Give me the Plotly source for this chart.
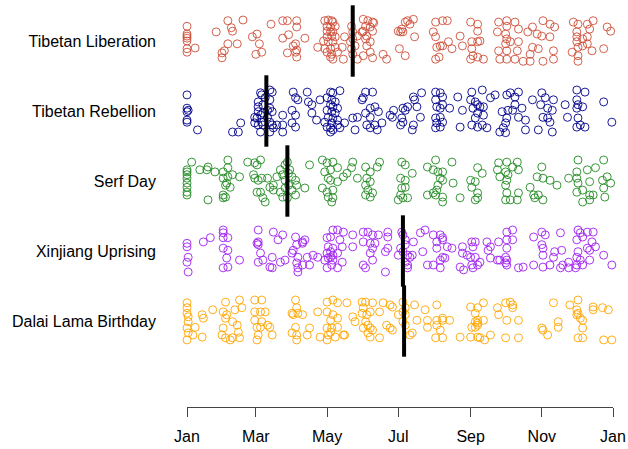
import plotly.graph_objects as go

categories = ["Dalai Lama Birthday", "Xinjiang Uprising", "Serf Day",
              "Tibetan Rebellion", "Tibetan Liberation"]
colors = ["#FFA500", "#A020F0", "#228B22", "#00008B", "#CD4F39"]
# day of year of each anniversary marker
anniv_days = [187, 186, 87, 69, 143]

month_ticks = [1, 60, 121, 182, 244, 305, 366]
month_labels = ["Jan", "Mar", "May", "Jul", "Sep", "Nov", "Jan"]

lib_days = [1,1,1,1,1,1,1,8,26,36,39,40,36,33,31,31,44,49,57,61,63,60,65,73,83,87,95,95,88,83,92,94,87,94,95,95,102,113,
    119,122,125,126,121,124,128,121,124,126,125,121,128,122,126,119,124,128,121,125,130,126,134,135,136,124,118,
    142,143,143,145,142,143,147,141,147,
    152,156,160,161,154,158,152,160,155,154,158,155,152,158,160,151,
    169,172,
    182,184,186,185,188,190,195,192,196,183,188,
    214,220,224,212,214,215,218,220,225,228,214,217,
    244,250,250,235,245,250,252,245,246,250,244,255,237,
    268,275,275,282,285,267,274,275,274,275,268,269,275,284,282,278,285,289,
    297,306,312,316,293,301,305,312,297,302,295,306,315,315,295,
    332,336,349,346,335,335,340,344,335,336,340,348,331,336,336,344,358,344,
    361,364]
lib_jit = [.21,.10,.07,.04,0,-.11,-.16,-.10,.13,.29,.19,.14,-.04,-.14,-.24,-.17,-.04,.30,.06,.10,-.04,-.19,-.16,.24,.29,.29,.29,.20,.09,.04,-.07,-.04,-.17,-.16,-.23,-.13,.04,-.09,
    .29,.30,.29,.27,.21,.20,.21,.14,.13,.13,.07,.06,.06,-.01,-.01,-.11,-.11,-.09,-.16,-.19,-.16,-.26,-.09,-.26,.06,-.23,0,
    .21,.13,.03,-.07,-.11,-.19,-.26,-.01,.07,
    .31,.29,.27,.26,.21,.20,.14,.14,.07,.03,-.01,-.07,-.21,-.16,-.24,.13,
    -.19,-.26,
    .14,.13,.13,.17,.27,.29,.31,.24,.06,-.11,-.21,
    .27,.29,.29,.13,.06,-.09,-.07,-.07,-.01,-.11,-.26,-.23,
    .27,.24,.14,.07,-.01,-.01,0,-.11,-.21,-.23,-.26,-.26,-.07,
    .27,.29,.21,.27,.17,.13,.10,.03,-.04,-.14,-.14,-.26,-.26,-.14,-.26,-.01,-.01,-.29,
    .20,.29,.24,.20,.13,.10,.07,.06,-.09,-.11,-.19,-.29,-.14,-.26,-.29,
    .27,.24,.29,.17,.13,.06,.03,.06,-.01,-.09,-.07,-.14,-.16,-.21,-.29,-.04,-.11,.24,
    .20,.14]

reb_days = [1,1,2,1,1,1,10,
    40,45,47,
    62,64,65,72,74,68,72,62,66,72,74,64,59,61,65,70,72,59,62,66,74,64,72,75,78,70,66,62,
    83,83,83,92,94,96,91,94,91,94,104,105,108,108,112,115,
    124,126,132,121,125,128,124,126,130,121,125,128,122,126,130,121,124,126,124,130,132,136,125,119,
    143,145,147,151,152,154,160,158,162,154,158,165,155,158,164,168,162,175,
    178,177,184,186,188,190,185,186,195,196,195,194,201,202,198,
    214,218,220,214,215,218,220,226,214,218,220,215,218,214,233,237,235,
    245,254,244,248,250,246,252,255,250,248,255,245,250,254,258,261,265,
    271,269,272,274,275,276,275,278,282,285,282,280,285,291,288,291,297,274,
    305,308,304,310,314,306,310,312,302,314,315,325,327,
    335,342,335,336,335,340,336,338,342,335,358,365]
reb_jit = [.23,.04,.01,-.01,-.13,-.16,-.27,
    -.30,-.30,-.17,
    .13,.26,.23,.30,.27,.19,.16,.06,.09,.04,-.01,-.06,-.09,-.10,-.16,-.09,-.16,-.17,-.20,-.20,-.20,-.30,-.30,-.24,-.20,.01,-.03,-.01,
    -.06,-.20,-.30,.27,.19,.16,.01,-.06,-.17,-.23,.27,.13,.09,-.03,-.13,.16,
    .27,.26,.29,.19,.16,.13,.09,.06,.04,.01,-.01,-.03,-.09,-.10,-.13,-.23,-.24,-.27,-.30,-.20,-.24,-.17,-.17,-.16,
    -.10,-.27,-.09,.16,.19,.27,.27,.04,.06,-.03,-.09,-.01,-.20,-.24,-.27,-.17,-.20,-.06,
    .01,-.09,-.20,.04,.01,.06,-.10,-.16,.20,.16,-.20,-.27,-.09,.26,.06,
    .27,.26,.20,.16,.06,.04,.09,.04,-.10,-.09,-.16,-.17,-.23,-.24,.20,.01,-.23,
    .27,.30,.16,.13,.09,.04,.06,.06,-.03,-.10,-.06,-.20,-.23,-.20,-.24,.19,.23,
    -.01,-.30,-.24,-.17,-.10,.01,.23,.26,.20,.27,.09,.01,-.09,-.13,.04,-.27,.16,-.31,
    .26,.19,.09,.04,.01,-.09,-.10,-.16,-.27,-.30,.16,.09,-.09,
    .30,.27,.16,.09,.04,.06,-.10,-.20,-.23,-.23,.13,-.16]

serf_days = [1,1,1,1,1,1,1,1,
    5,12,19,19,18,25,32,36,36,32,36,40,34,38,35,32,34,32,46,
    53,59,64,61,58,59,62,65,61,64,66,68,72,70,75,78,
    81,85,87,83,88,91,94,85,88,85,81,83,87,91,94,95,102,75,89,
    106,117,121,126,119,124,130,122,124,117,121,126,122,126,125,130,135,138,143,142,147,
    154,158,164,166,155,158,154,156,154,160,158,
    185,188,194,184,188,185,188,184,186,182,190,
    207,214,212,216,220,218,220,216,215,214,212,220,207,220,228,229,235,
    250,254,244,248,245,250,250,248,
    268,275,284,267,274,276,285,269,275,274,275,274,278,285,284,280,
    305,301,306,312,318,295,298,302,306,299,
    336,335,344,328,335,336,346,335,340,346,349,340,346,351,358,357,361,364,358,359]
serf_jit = [.16,.09,.04,-.03,-.09,-.16,-.20,.13,
    .27,.16,.20,-.27,.16,.13,.13,.30,.19,.04,.06,.09,-.06,-.09,-.03,-.20,-.23,-.24,.06,
    .27,.26,.30,.23,.09,.04,.01,.04,-.16,-.16,-.24,-.30,-.09,.04,-.06,.06,
    .16,.23,.27,.09,.11,.06,.01,.01,-.06,-.10,-.16,-.23,-.24,-.13,-.20,-.06,-.10,-.13,.16,
    .23,.30,.26,.27,.13,.16,.19,.04,.01,-.10,-.16,-.13,-.23,-.24,-.30,-.01,.06,.11,.27,.19,.04,
    .20,.13,.20,.27,.04,-.01,-.06,-.13,-.20,-.17,-.23,
    .27,.23,.11,.04,.01,-.10,-.09,-.20,-.24,-.27,-.24,
    .20,.30,.16,.13,.13,.04,.01,-.06,-.13,-.20,-.17,-.23,-.20,-.30,.27,-.03,-.24,
    .19,.11,.01,-.01,-.09,-.17,-.24,-.27,
    .26,.27,.27,.16,.13,.09,.16,.06,.01,-.06,-.17,-.27,-.27,-.17,-.27,.20,
    .20,.06,.04,.01,-.06,-.09,-.20,-.20,-.27,-.24,
    .30,.13,.16,.04,.04,-.03,-.01,-.16,-.13,-.20,-.20,-.30,-.27,.19,.30,.01,.06,-.03,-.10,-.23]

xj_days = [1,1,2,1,2,15,21,32,32,32,36,32,36,35,32,36,46,
    62,62,61,62,64,62,66,74,75,79,83,72,74,
    81,85,91,94,95,100,102,100,92,96,95,96,100,106,104,109,113,96,
    121,124,126,130,135,122,126,132,134,121,124,126,130,122,126,121,125,130,134,119,124,
    143,143,152,156,160,152,158,162,165,173,173,160,158,160,152,154,171,173,171,
    185,186,188,184,186,190,188,190,192,194,195,182,188,190,
    201,205,212,218,220,215,220,203,215,224,228,220,218,222,207,212,218,
    237,237,241,245,248,246,244,248,245,246,250,252,235,238,258,259,261,261,
    268,275,280,275,280,275,269,274,275,274,275,285,289,267,
    298,305,308,305,306,306,315,321,322,316,298,306,312,321,328,328,323,
    336,338,340,335,344,349,348,344,346,336,335,338,335,340,334,346,351,358,365]
xj_jit = [.11,.06,-.09,-.16,-.30,.13,.19,.30,.26,.19,.19,.04,.01,-.10,-.24,-.23,-.13,
    .30,.13,.11,.09,-.03,-.16,-.13,-.09,.27,.16,.23,-.23,-.24,
    -.16,-.13,-.03,.20,.09,.13,.16,.11,.01,-.09,-.17,-.24,-.20,-.20,-.09,-.06,-.09,-.30,
    .19,.20,.30,.30,.27,.06,.04,.16,.06,-.03,-.01,-.06,-.03,-.10,-.13,-.24,-.20,-.24,-.16,-.13,-.09,
    .23,.06,.27,.27,.23,.13,.11,.11,.23,.27,.20,.04,-.03,-.13,-.20,-.24,-.01,.04,-.30,
    .27,.23,.16,.04,-.01,-.06,-.16,-.20,-.09,-.06,.13,-.06,.09,-.24,
    .26,.30,.23,.23,.19,.13,.16,-.01,.04,.06,.04,-.09,-.13,-.10,-.20,-.20,-.24,
    .06,-.03,-.06,.13,.13,.06,-.09,-.09,-.20,-.24,-.20,-.16,-.23,-.27,.13,.01,.06,-.10,
    .13,.27,.30,.16,.16,.04,-.13,-.09,-.13,-.17,-.20,-.24,-.23,-.13,
    .20,.27,.23,.09,.04,-.06,-.09,.26,.01,-.01,-.20,-.23,-.20,-.24,-.16,-.24,-.20,
    .30,.26,.20,.16,.27,.27,.13,.04,.01,-.01,-.09,-.13,-.20,-.20,-.24,-.13,.06,-.06,-.20]

dl_days = [1,1,1,2,1,2,1,6,8,14,15,14,2,
    23,34,32,35,34,32,31,34,38,40,40,42,46,48,45,46,44,
    59,65,59,64,68,59,65,61,64,70,72,62,61,74,
    94,95,91,96,92,100,94,91,95,95,104,106,
    113,115,121,126,130,121,126,124,130,121,125,130,122,128,121,124,138,135,136,
    143,145,151,154,160,152,151,155,158,166,169,175,154,156,158,160,156,158,166,172,175,152,
    177,182,186,188,186,188,186,188,177,192,194,196,198,205,207,207,215,215,215,220,220,226,214,220,218,
    235,244,245,248,250,255,248,250,250,255,248,244,250,252,256,261,250,
    267,268,274,278,280,280,275,285,274,285,
    305,306,310,315,319,319,
    329,336,335,336,335,338,340,340,336,340,349,349,357,362,358,365]
dl_jit = [.26,.19,.11,.06,-.10,-.17,-.27,-.20,-.09,.09,.04,-.23,-.01,
    .16,.27,.13,.09,.04,-.10,-.20,-.24,-.27,-.24,-.01,.16,.30,.19,-.16,-.24,-.06,
    .30,.30,.13,.13,.13,.01,-.01,-.09,-.09,-.06,-.09,-.20,-.27,-.20,
    .30,.19,.11,.11,.09,.09,-.09,-.17,-.20,-.27,-.20,-.10,
    .13,-.23,.27,.30,.26,.13,.09,.01,.04,-.10,-.10,-.09,-.20,-.23,-.27,-.16,.26,-.20,-.20,
    .06,-.01,.27,.27,.26,.19,.11,.09,.13,.13,.26,.23,-.01,-.06,-.10,-.13,-.17,-.23,-.24,-.06,-.10,-.10,
    .20,.09,.27,.19,.13,.09,-.01,-.06,-.13,-.20,-.17,.23,.01,.16,.01,-.09,.23,.01,-.06,.04,.01,.01,-.24,-.24,-.13,
    -.23,.20,-.09,.11,.19,.26,-.01,.01,-.03,.01,-.09,-.23,-.23,-.24,-.27,-.20,-.06,
    .19,.09,.26,.27,.23,.19,.01,.01,-.24,-.24,
    -.10,-.13,-.20,.26,-.01,-.09,
    .23,.30,.16,.11,.09,.04,.01,-.10,-.24,-.24,.20,.16,.19,.16,-.27,-.27]

series_days = [dl_days, xj_days, serf_days, reb_days, lib_days]
series_jit = [dl_jit, xj_jit, serf_jit, reb_jit, lib_jit]

fig = go.Figure()
for i, (name, col) in enumerate(zip(categories, colors)):
    row = i + 1
    d = series_days[i]
    j = series_jit[i]
    n = min(len(d), len(j))
    fig.add_trace(go.Scatter(
        x=d[:n], y=[row + v for v in j[:n]], mode="markers", name=name,
        marker=dict(symbol="circle-open", size=8, color=col, opacity=0.9,
                    line=dict(width=1, color=col)),
        cliponaxis=False, showlegend=False, hoverinfo="skip"))

for i, day in enumerate(anniv_days):
    row = i + 1
    fig.add_shape(type="line", x0=day, x1=day, y0=row - 0.51, y1=row + 0.51,
                  xref="x", yref="y", line=dict(color="black", width=4), layer="above")

font = "Liberation Sans, Arial, Helvetica, sans-serif"
fig.update_layout(
    width=628, height=449,
    margin=dict(l=187, r=15, t=0, b=42),
    paper_bgcolor="white", plot_bgcolor="white",
    font=dict(family=font, size=16, color="black"),
    xaxis=dict(range=[1, 366], tickvals=month_ticks, ticktext=month_labels,
               showgrid=False, zeroline=False, showline=True, linecolor="#444",
               linewidth=1, ticks="outside", ticklen=9, tickcolor="#444",
               tickfont=dict(size=16, family=font, color="black"),
               ticklabelstandoff=6),
    yaxis=dict(range=[-0.2286, 5.5857], tickvals=[1, 2, 3, 4, 5], ticktext=categories,
               showgrid=False, zeroline=False, showline=False, ticks="",
               tickfont=dict(size=16, family=font, color="black"),
               ticklabelstandoff=30),
)

fig.write_html("out.html")
